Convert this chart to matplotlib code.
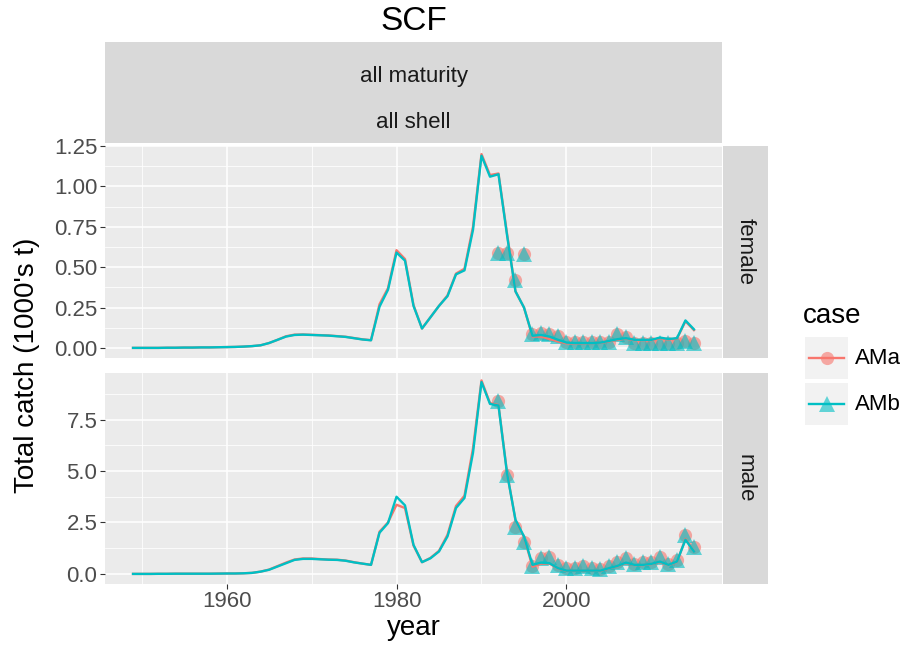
import numpy as np
import matplotlib
matplotlib.use("Agg")
import matplotlib.pyplot as plt

plt.rcParams['font.family'] = ['Liberation Sans', 'DejaVu Sans']

# ==========================
# Data
# ==========================
years = list(range(1949, 2016))
obs_years = list(range(1992, 2016))

female_AMb = [0.0, 0.0, 0.0, 0.0, 0.001, 0.001, 0.002, 0.002, 0.003, 0.003, 0.004, 0.005, 0.006, 0.008,
              0.011, 0.016, 0.03, 0.05, 0.07, 0.08, 0.082, 0.08, 0.078, 0.076, 0.072, 0.068, 0.06, 0.052, 0.047,
              0.255, 0.36, 0.59, 0.54, 0.26, 0.12, 0.19, 0.26, 0.32, 0.455, 0.48, 0.73, 1.19, 1.06, 1.075,
              0.70, 0.35, 0.25,
              0.075, 0.08, 0.07, 0.05, 0.033, 0.03, 0.03, 0.03, 0.033, 0.043, 0.054, 0.06, 0.05, 0.05, 0.05,
              0.064, 0.055, 0.06, 0.17, 0.115]
female_AMa = [0.0, 0.0, 0.0, 0.0, 0.001, 0.001, 0.002, 0.002, 0.003, 0.003, 0.004, 0.005, 0.006, 0.008,
              0.011, 0.016, 0.03, 0.05, 0.072, 0.082, 0.083, 0.081, 0.079, 0.077, 0.073, 0.069, 0.061, 0.053, 0.048,
              0.27, 0.37, 0.605, 0.55, 0.265, 0.12, 0.19, 0.26, 0.325, 0.46, 0.49, 0.75, 1.2, 1.07, 1.08,
              0.71, 0.35, 0.25,
              0.07, 0.07, 0.055, 0.04, 0.028, 0.028, 0.028, 0.03, 0.032, 0.04, 0.05, 0.057, 0.048, 0.048, 0.048,
              0.06, 0.052, 0.057, 0.165, 0.11]

male_AMb = [0.0, 0.0, 0.0, 0.005, 0.005, 0.01, 0.01, 0.01, 0.01, 0.01, 0.015, 0.02, 0.02, 0.03,
            0.05, 0.11, 0.2, 0.36, 0.52, 0.68, 0.73, 0.73, 0.71, 0.69, 0.68, 0.64, 0.56, 0.5, 0.44,
            2.0, 2.47, 3.75, 3.33, 1.41, 0.57, 0.76, 1.09, 1.82, 3.2, 3.69, 5.88, 9.32, 8.26, 8.18,
            4.9, 2.63, 1.82,
            0.44, 0.55, 0.52, 0.28, 0.16, 0.16, 0.16, 0.16, 0.16, 0.28, 0.39, 0.55, 0.44, 0.44, 0.49,
            0.6, 0.44, 0.6, 1.66, 1.09]
male_AMa = [0.0, 0.0, 0.0, 0.005, 0.005, 0.01, 0.01, 0.01, 0.01, 0.01, 0.015, 0.02, 0.02, 0.03,
            0.05, 0.11, 0.21, 0.38, 0.55, 0.7, 0.75, 0.75, 0.72, 0.7, 0.69, 0.65, 0.57, 0.5, 0.44,
            2.05, 2.5, 3.36, 3.2, 1.38, 0.57, 0.78, 1.12, 1.9, 3.3, 3.8, 6.1, 9.4, 8.3, 8.2,
            4.95, 2.6, 1.8,
            0.35, 0.5, 0.5, 0.27, 0.15, 0.15, 0.15, 0.15, 0.15, 0.27, 0.38, 0.53, 0.43, 0.43, 0.48,
            0.58, 0.43, 0.58, 1.7, 1.1]

female_obs = [0.59, 0.59, 0.42, 0.58, 0.085, 0.095, 0.085, 0.075, 0.035, 0.035, 0.035, 0.035, 0.035,
              0.035, 0.085, 0.07, 0.03, 0.03, 0.03, 0.03, 0.03, 0.03, 0.045, 0.03]
male_obs = [8.4, 4.82, 2.3, 1.57, 0.36, 0.79, 0.84, 0.44, 0.28, 0.3, 0.36, 0.3, 0.22,
            0.36, 0.6, 0.78, 0.5, 0.6, 0.6, 0.84, 0.5, 0.7, 1.9, 1.33]

case_labels = ["AMa", "AMb"]
sex_labels = ["female", "male"]
colors = ["#F8766D", "#00BFC4"]

# ==========================
# Layout helpers (pixel boxes)
# ==========================
W, H = 909, 657
fig = plt.figure(figsize=(W / 100, H / 100), dpi=100)


def px_axes(x0, y0, x1, y1):
    return fig.add_axes([x0 / W, 1 - y1 / H, (x1 - x0) / W, (y1 - y0) / H])


def strip_box(x0, y0, x1, y1):
    ax = px_axes(x0, y0, x1, y1)
    ax.set_facecolor("#D9D9D9")
    ax.set_xticks([])
    ax.set_yticks([])
    for s in ax.spines.values():
        s.set_visible(False)
    return ax


panel_boxes = [(105, 146, 722, 357.5), (105, 372.5, 722, 583.5)]
ylims = [(-0.0595, 1.2497), (-0.466, 9.786)]
yticks = [[0, 0.25, 0.5, 0.75, 1.0, 1.25], [0, 2.5, 5.0, 7.5]]
ytick_labels = [["0.00", "0.25", "0.50", "0.75", "1.00", "1.25"], ["0.0", "2.5", "5.0", "7.5"]]
yminor = [[0.125, 0.375, 0.625, 0.875, 1.125], [1.25, 3.75, 6.25, 8.75]]

series = [(female_AMa, female_AMb, female_obs), (male_AMa, male_AMb, male_obs)]

for i, box in enumerate(panel_boxes):
    ax = px_axes(*box)
    ax.set_facecolor("#EBEBEB")
    for s in ax.spines.values():
        s.set_visible(False)
    ax.set_xlim(1945.7, 2018.3)
    ax.set_ylim(*ylims[i])

    ax.set_xticks([1960, 1980, 2000])
    ax.set_xticks([1950, 1970, 1990, 2010], minor=True)
    ax.set_yticks(yticks[i])
    ax.set_yticklabels(ytick_labels[i])
    ax.set_yticks(yminor[i], minor=True)
    ax.grid(which="major", color="white", linewidth=1.1)
    ax.grid(which="minor", color="white", linewidth=0.55)
    ax.set_axisbelow(True)
    ax.tick_params(axis="both", which="major", length=3.5, width=0.8, color="#333333",
                   labelsize=16, labelcolor="#4D4D4D", pad=2)
    ax.tick_params(which="minor", length=0)
    if i == 0:
        ax.tick_params(axis="x", which="major", length=0, labelbottom=False)

    am_a, am_b, obs = series[i]
    # observed points
    ax.plot(obs_years, obs, linestyle="none", marker="o", markersize=9.5,
            color=colors[0], alpha=0.6, markeredgewidth=0)
    ax.plot(obs_years, obs, linestyle="none", marker="^", markersize=11.5,
            color=colors[1], alpha=0.6, markeredgewidth=0)
    # model lines
    ax.plot(years, am_a, color=colors[0], linewidth=1.7)
    ax.plot(years, am_b, color=colors[1], linewidth=1.7)

    if i == 1:
        ax.set_xlabel("year", fontsize=20, labelpad=2)

    # right strip
    sx = strip_box(723, box[1], 768, box[3])
    sx.text(0.5, 0.5, sex_labels[i], rotation=-90, ha="center", va="center",
            fontsize=16, color="#1A1A1A", transform=sx.transAxes)

# top strip
st = strip_box(105, 42, 722, 143)
st.text(0.5, 0.66, "all maturity", ha="center", va="center", fontsize=16,
        color="#1A1A1A", transform=st.transAxes)
st.text(0.5, 0.2, "all shell", ha="center", va="center", fontsize=16,
        color="#1A1A1A", transform=st.transAxes)

# titles
fig.text(413.5 / W, 1 - 22 / H, "SCF", ha="center", va="center", fontsize=24)
fig.text(27 / W, 1 - 365 / H, "Total catch (1000's t)", ha="center", va="center",
         rotation=90, fontsize=20)

# ==========================
# Legend (drawn by hand, ggplot style)
# ==========================
fig.text(803 / W, 1 - 316 / H, "case", ha="left", va="center", fontsize=20)
markers = ["o", "^"]
msizes = [9.5, 12]
for k in range(2):
    y0 = 337 + k * 46
    kax = px_axes(805, y0, 848, y0 + 42)
    kax.set_facecolor("#F2F2F2")
    kax.set_xlim(0, 1)
    kax.set_ylim(0, 1)
    kax.set_xticks([])
    kax.set_yticks([])
    for s in kax.spines.values():
        s.set_visible(False)
    kax.plot([0.1, 0.9], [0.5, 0.5], color=colors[k], linewidth=1.7)
    kax.plot([0.5], [0.5], marker=markers[k], markersize=msizes[k], color=colors[k],
             alpha=0.6, markeredgewidth=0, linestyle="none")
    fig.text(855 / W, 1 - (y0 + 21) / H, case_labels[k], ha="left", va="center", fontsize=16)

fig.savefig("out.png", dpi=100)
